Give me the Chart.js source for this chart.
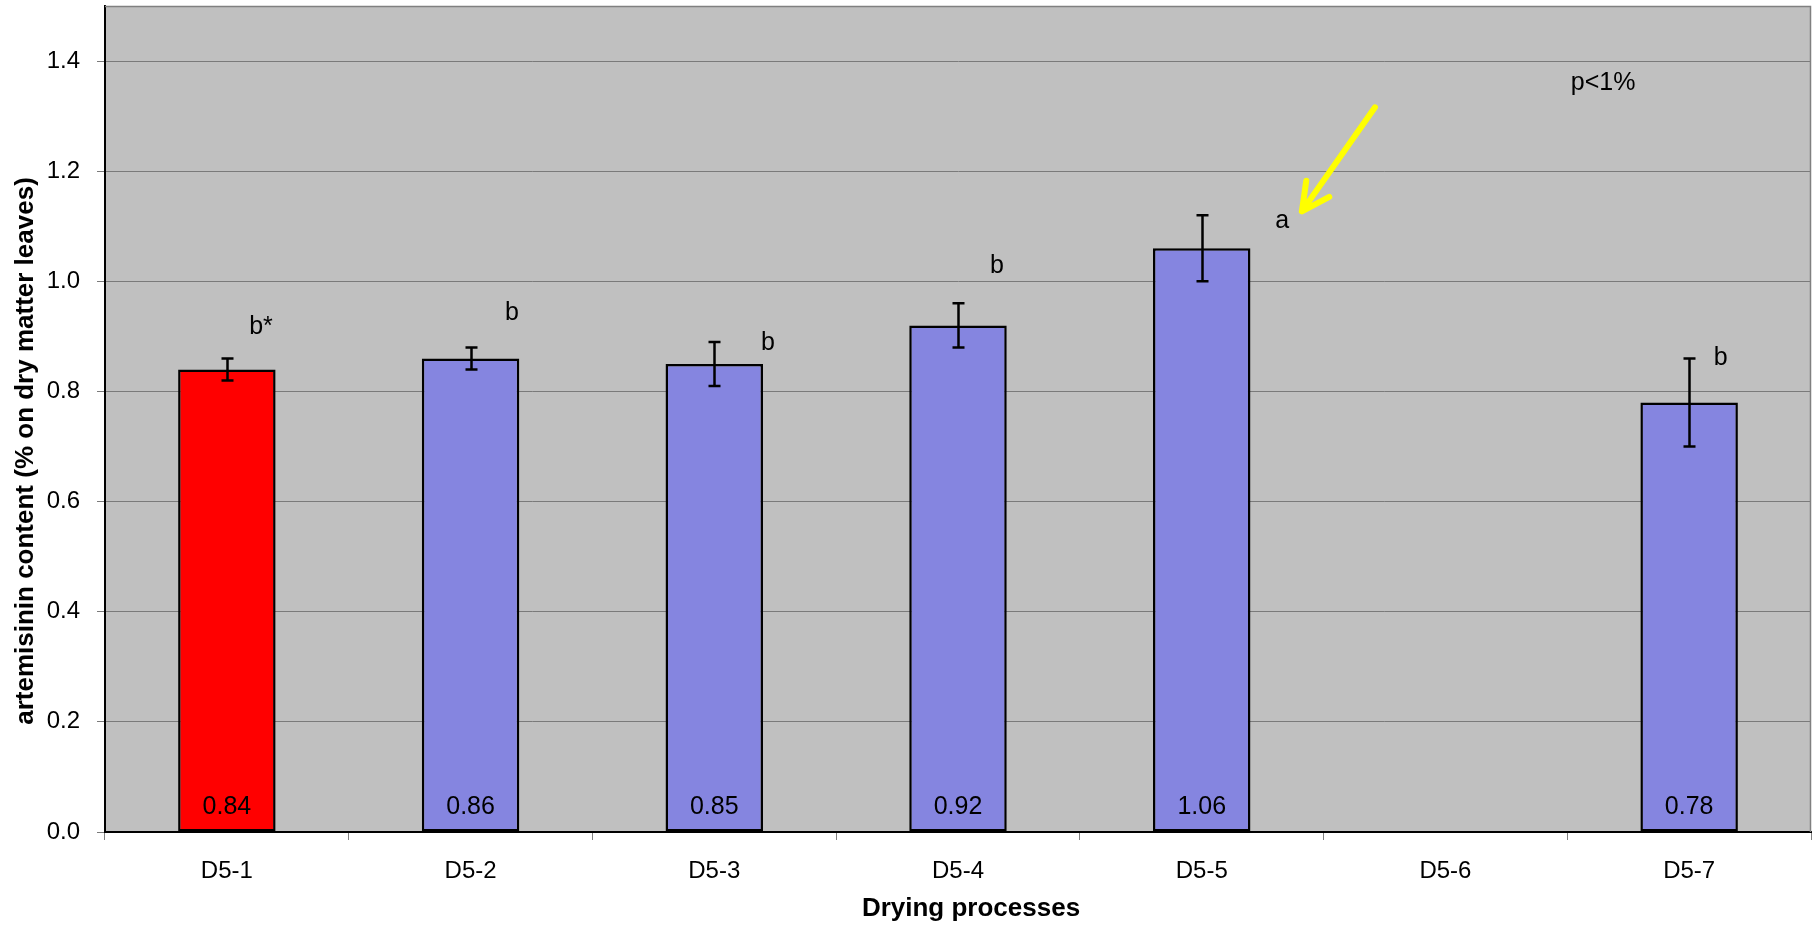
<!DOCTYPE html>
<html>
<head>
<meta charset="utf-8">
<script src="https://cdn.jsdelivr.net/npm/chart.js@4.4.0/dist/chart.umd.min.js"></script>
<style>
  html, body { margin: 0; padding: 0; background: #ffffff; }
  canvas { display: block; }
</style>
</head>
<body>
<canvas id="chart" width="1817" height="925"></canvas>
<script>
// Artemisinin content of dried leaves per drying process
const categories = ['D5-1', 'D5-2', 'D5-3', 'D5-4', 'D5-5', 'D5-6', 'D5-7'];
const artemisinin = [0.84, 0.86, 0.85, 0.92, 1.06, null, 0.78];
const errorMargin = [0.02, 0.02, 0.04, 0.04, 0.06, null, 0.08];
const groupLetters = ['b*', 'b', 'b', 'b', 'a', null, 'b'];
const letterLevel = [0.917, 0.942, 0.888, 1.028, 1.109, null, 0.86];
const yTickValues = [0, 0.2, 0.4, 0.6, 0.8, 1.0, 1.2, 1.4];

// placement of the significance letters, arrow and p-value note (category units / axis values)
const letterShift = [0.14, 0.17, 0.22, 0.16, 0.33, null, 0.13];
const arrowFrom = { x: 4.711, y: 1.316 };
const arrowTo = { x: 4.411, y: 1.127 };
const pNote = { x: 5.647, y: 1.36, text: 'p<1%' };

const xTitle = 'Drying processes';
const yTitle = 'artemisinin content (% on dry matter leaves)';

const FONT = '"Liberation Sans", Arial, sans-serif';
const barColors = artemisinin.map((v, i) => i === 0 ? '#ff0000' : '#8585e0');

const annotations = {
  id: 'annotations',
  beforeDraw(chart) {
    const { ctx, chartArea: a } = chart;
    ctx.save();
    ctx.fillStyle = '#c0c0c0';
    ctx.fillRect(a.left, a.top, a.right - a.left, a.bottom - a.top);
    ctx.restore();
  },
  afterDatasetsDraw(chart) {
    const { ctx, chartArea: a } = chart;
    const xs = chart.scales.x, ys = chart.scales.y;

    // plot frame (top and right)
    ctx.save();
    ctx.strokeStyle = '#808080';
    ctx.lineWidth = 1.5;
    ctx.beginPath();
    ctx.moveTo(a.left, a.top + 0.5);
    ctx.lineTo(a.right - 0.5, a.top + 0.5);
    ctx.lineTo(a.right - 0.5, a.bottom);
    ctx.stroke();

    // error bars
    ctx.strokeStyle = '#000000';
    ctx.lineWidth = 2.5;
    artemisinin.forEach((v, i) => {
      if (v === null || errorMargin[i] === null) return;
      const x = Math.round(xs.getPixelForValue(i)) + 0.5;
      const yHi = ys.getPixelForValue(v + errorMargin[i]);
      const yLo = ys.getPixelForValue(v - errorMargin[i]);
      ctx.beginPath();
      ctx.moveTo(x, yHi); ctx.lineTo(x, yLo);
      ctx.moveTo(x - 6, yHi); ctx.lineTo(x + 6, yHi);
      ctx.moveTo(x - 6, yLo); ctx.lineTo(x + 6, yLo);
      ctx.stroke();
    });

    // value labels at the foot of each bar
    ctx.fillStyle = '#000000';
    ctx.font = '25px ' + FONT;
    ctx.textAlign = 'center';
    ctx.textBaseline = 'middle';
    artemisinin.forEach((v, i) => {
      if (v === null) return;
      ctx.fillText(v.toFixed(2), xs.getPixelForValue(i), ys.getPixelForValue(0) - 25);
    });

    // significance letters
    groupLetters.forEach((t, i) => {
      if (!t) return;
      ctx.fillText(t, xs.getPixelForValue(i + letterShift[i]), ys.getPixelForValue(letterLevel[i]));
    });

    // p-value note
    ctx.fillText(pNote.text, xs.getPixelForValue(pNote.x), ys.getPixelForValue(pNote.y));

    // yellow arrow pointing at the "a" group
    const x0 = xs.getPixelForValue(arrowFrom.x), y0 = ys.getPixelForValue(arrowFrom.y);
    const x1 = xs.getPixelForValue(arrowTo.x), y1 = ys.getPixelForValue(arrowTo.y);
    const ang = Math.atan2(y0 - y1, x0 - x1);
    const head = 31, spread = 27 * Math.PI / 180;
    ctx.strokeStyle = '#ffff00';
    ctx.lineWidth = 6;
    ctx.lineCap = 'round';
    ctx.lineJoin = 'round';
    ctx.beginPath();
    ctx.moveTo(x0, y0); ctx.lineTo(x1, y1);
    ctx.moveTo(x1 + head * Math.cos(ang - spread), y1 + head * Math.sin(ang - spread));
    ctx.lineTo(x1, y1);
    ctx.lineTo(x1 + head * Math.cos(ang + spread), y1 + head * Math.sin(ang + spread));
    ctx.stroke();
    ctx.restore();
  },
  afterDraw(chart) {
    // axis titles
    const { ctx } = chart;
    ctx.save();
    ctx.fillStyle = '#000000';
    ctx.font = 'bold 26px ' + FONT;
    ctx.textAlign = 'center';
    ctx.textBaseline = 'alphabetic';
    ctx.fillText(xTitle, 971, 916);
    ctx.translate(33, 451);
    ctx.rotate(-Math.PI / 2);
    ctx.fillText(yTitle, 0, 0);
    ctx.restore();
  }
};

new Chart(document.getElementById('chart'), {
  type: 'bar',
  data: {
    labels: categories,
    datasets: [{
      data: artemisinin,
      backgroundColor: barColors,
      borderColor: '#000000',
      borderWidth: 2.5,
      borderSkipped: false,
      barPercentage: 0.4,
      categoryPercentage: 1.0
    }]
  },
  options: {
    responsive: false,
    animation: false,
    devicePixelRatio: 1,
    layout: { padding: { left: 0, right: 6, top: 6, bottom: 0 } },
    plugins: {
      legend: { display: false },
      tooltip: { enabled: false }
    },
    scales: {
      x: {
        offset: true,
        grid: {
          offset: true,
          drawOnChartArea: false,
          drawTicks: true,
          tickLength: 8,
          color: '#808080'
        },
        border: { display: true, color: '#000000', width: 2 },
        ticks: {
          color: '#000000',
          font: { family: FONT, size: 24 },
          padding: 17,
          maxRotation: 0
        },
        afterFit(scale) {
          scale.height = 93;
          scale.paddingLeft = 0;
          scale.paddingRight = 0;
        }
      },
      y: {
        min: 0,
        max: 1.5,
        afterBuildTicks(scale) {
          scale.ticks = yTickValues.map(v => ({ value: v }));
        },
        grid: {
          color: '#7a7a7a',
          lineWidth: 1,
          tickLength: 8,
          drawTicks: true
        },
        border: { display: true, color: '#000000', width: 2 },
        ticks: {
          color: '#000000',
          font: { family: FONT, size: 24 },
          padding: 17,
          callback: v => v.toFixed(1)
        },
        afterFit(scale) {
          scale.width = 105;
          scale.paddingTop = 0;
          scale.paddingBottom = 0;
        }
      }
    }
  },
  plugins: [annotations]
});
</script>
</body>
</html>
